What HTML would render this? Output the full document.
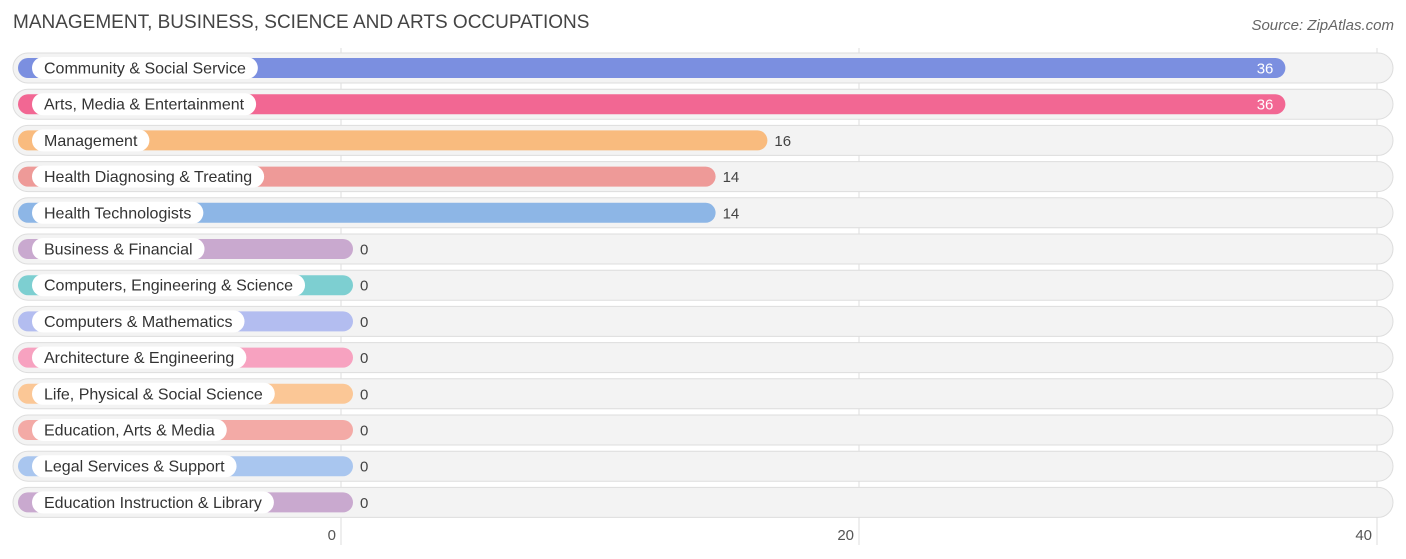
<!DOCTYPE html>
<html><head><meta charset="utf-8"><style>
body{margin:0;background:#fff;font-family:"Liberation Sans",sans-serif;}
svg{display:block}
</style></head><body>
<svg id="c" width="1406" height="559">
<text x="13" y="28" font-size="19" fill="#444">MANAGEMENT, BUSINESS, SCIENCE AND ARTS OCCUPATIONS</text>
<text x="1394" y="30" font-size="15" fill="#666" font-style="italic" text-anchor="end">Source: ZipAtlas.com</text>
<g id="grid"></g><g id="rows"></g>
</svg>
<script>
const categories=["Community & Social Service","Arts, Media & Entertainment","Management","Health Diagnosing & Treating","Health Technologists","Business & Financial","Computers, Engineering & Science","Computers & Mathematics","Architecture & Engineering","Life, Physical & Social Science","Education, Arts & Media","Legal Services & Support","Education Instruction & Library"];
const values=[36,36,16,14,14,0,0,0,0,0,0,0,0];
const colors=["#7b8fe0","#f26793","#f9bb7e","#ee9a98","#8db6e6","#c9a9cf","#7dcfd1","#b3bdf0","#f7a2c0","#fbc796","#f3aaa6","#a9c6ef","#c9a9cf"];
const ticks=[0,20,40];
const NS="http://www.w3.org/2000/svg";
const x=v=>341+v*25.9;
const y=i=>68+i*36.2;
function mk(t,a,p){const e=document.createElementNS(NS,t);for(const k in a)e.setAttribute(k,a[k]);p.appendChild(e);return e;}
const grid=document.getElementById('grid'),rows=document.getElementById('rows');
const meas=mk('text',{'font-size':16,x:-999,y:-999},rows);
ticks.forEach(t=>{
 const l=mk('line',{x1:x(t),x2:x(t),y1:48,y2:545,stroke:'#ddd','stroke-width':1},grid);
 
 
 const tx=mk('text',{x:x(t)-5,y:540,'font-size':15,fill:'#555','text-anchor':'end'},grid);
 tx.textContent=t;
 
 
});
categories.forEach((c,i)=>{
 const cy=y(i);
 const g=mk('g',{},rows);
 
 
 const bg=mk('rect',{x:13,y:cy-15,width:1380,height:30,rx:15,fill:'#f3f3f3',stroke:'#ddd'},g);
 
 
 const end=x(values[i])+12;
 const b=mk('rect',{x:18,y:cy-10,width:end-18,height:20,rx:10,fill:colors[i]},g);
 
 
 meas.textContent=c;
 const w=meas.getComputedTextLength();
 const p=mk('rect',{x:32,y:cy-11,width:w+24,height:22,rx:11,fill:'#fff'},g);
 
 
 const t=mk('text',{x:44,y:cy+5.5,'font-size':16,fill:'#333'},g);
 t.textContent=c;
 
 
 const inside=values[i]>=30;
 const v=mk('text',{x:inside?end-12:end+7,y:cy+5.5,'font-size':15,fill:inside?'#fff':'#444','text-anchor':inside?'end':'start'},g);
 v.textContent=values[i];
 
 
});
meas.remove();
</script>
</body></html>
